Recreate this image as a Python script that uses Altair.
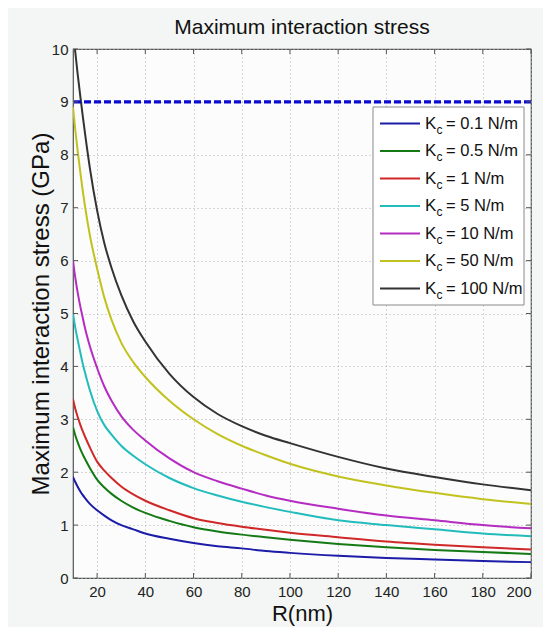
import altair as alt
import pandas as pd

# ---- data ----
R = [10, 11, 12, 13, 14, 15, 17, 20, 23, 26, 30, 35, 40, 50, 60, 70, 80, 90, 100, 120, 140, 160, 180, 200]

kc_labels = ["0.1", "0.5", "1", "5", "10", "50", "100"]

kc_0_1 = [1.91, 1.81, 1.72, 1.64, 1.57, 1.51, 1.40, 1.28, 1.18, 1.09, 1.00, 0.92, 0.84, 0.74, 0.66, 0.60, 0.56, 0.51, 0.475, 0.42, 0.38, 0.35, 0.32, 0.30]
kc_0_5 = [2.85, 2.69, 2.56, 2.44, 2.34, 2.25, 2.08, 1.86, 1.71, 1.59, 1.46, 1.33, 1.23, 1.08, 0.96, 0.88, 0.82, 0.77, 0.725, 0.645, 0.58, 0.53, 0.49, 0.455]
kc_1 = [3.38, 3.19, 3.04, 2.90, 2.78, 2.67, 2.47, 2.20, 2.03, 1.89, 1.73, 1.58, 1.46, 1.28, 1.13, 1.04, 0.97, 0.91, 0.855, 0.77, 0.69, 0.63, 0.58, 0.54]
kc_5 = [5.00, 4.72, 4.49, 4.27, 4.06, 3.88, 3.55, 3.16, 2.89, 2.71, 2.50, 2.31, 2.15, 1.89, 1.70, 1.56, 1.44, 1.34, 1.25, 1.09, 1.00, 0.92, 0.84, 0.79]
kc_10 = [6.00, 5.66, 5.38, 5.14, 4.93, 4.72, 4.38, 3.97, 3.62, 3.35, 3.06, 2.80, 2.60, 2.26, 2.00, 1.83, 1.69, 1.56, 1.46, 1.31, 1.18, 1.09, 1.00, 0.94]
kc_50 = [8.90, 8.45, 8.05, 7.68, 7.33, 7.02, 6.48, 5.85, 5.30, 4.88, 4.45, 4.08, 3.80, 3.35, 3.00, 2.72, 2.50, 2.32, 2.16, 1.92, 1.75, 1.61, 1.49, 1.40]
kc_100 = [10.35, 9.92, 9.50, 9.12, 8.75, 8.40, 7.75, 6.95, 6.33, 5.86, 5.35, 4.85, 4.47, 3.86, 3.42, 3.10, 2.87, 2.69, 2.55, 2.29, 2.07, 1.91, 1.77, 1.66]

series_values = [kc_0_1, kc_0_5, kc_1, kc_5, kc_10, kc_50, kc_100]

colors = ["#1c1ca8", "#157a15", "#d02828", "#22bcbc", "#b52cc2", "#c2c21e", "#333333"]

limit_value = [9]

x_ticks = [20, 40, 60, 80, 100, 120, 140, 160, 180, 200]
y_ticks = [0, 1, 2, 3, 4, 5, 6, 7, 8, 9, 10]

# ---- layout ----
W, H = 458, 529
FONT = "Liberation Sans"

rows = []
for lab, vals in zip(kc_labels, series_values):
    for r, v in zip(R, vals):
        rows.append({"R": r, "stress": v, "Kc": lab})
df = pd.DataFrame(rows)

leg_df = pd.DataFrame({"Kc": kc_labels, "rest": ["= " + k + " N/m" for k in kc_labels]})

xscale = alt.Scale(domain=[10, 200], nice=False, zero=False)
yscale = alt.Scale(domain=[0, 10], nice=False, zero=False)
cscale = alt.Scale(domain=kc_labels, range=colors)

x_axis = alt.Axis(values=x_ticks, title="R(nm)", grid=True)
y_axis = alt.Axis(values=y_ticks, title="Maximum interaction stress (GPa)", grid=True)

lines = alt.Chart(df).mark_line(strokeWidth=2, clip=True, interpolate="monotone").encode(
    x=alt.X("R:Q", scale=xscale, axis=x_axis),
    y=alt.Y("stress:Q", scale=yscale, axis=y_axis),
    color=alt.Color("Kc:N", scale=cscale, legend=None),
)

limit = alt.Chart(pd.DataFrame({"limit": limit_value})).mark_rule(
    color="#0a0ad0", strokeWidth=3.2, strokeDash=[7, 3]
).encode(y=alt.Y("limit:Q", scale=yscale, axis=None))

# inward ticks (MATLAB style box)
xt = pd.DataFrame({"t": x_ticks})
yt = pd.DataFrame({"t": y_ticks})
tick_col = "#555555"
tick_bottom = alt.Chart(xt).mark_rule(color=tick_col, strokeWidth=1).encode(
    x=alt.X("t:Q", scale=xscale, title="R(nm)"), y=alt.value(H - 5), y2=alt.value(H))
tick_top = alt.Chart(xt).mark_rule(color=tick_col, strokeWidth=1).encode(
    x=alt.X("t:Q", scale=xscale, title="R(nm)"), y=alt.value(0), y2=alt.value(5))
tick_left = alt.Chart(yt).mark_rule(color=tick_col, strokeWidth=1).encode(
    y=alt.Y("t:Q", scale=yscale, axis=None), x=alt.value(0), x2=alt.value(5))
tick_right = alt.Chart(yt).mark_rule(color=tick_col, strokeWidth=1).encode(
    y=alt.Y("t:Q", scale=yscale, axis=None), x=alt.value(W - 5), x2=alt.value(W))

# legend
leg_y = alt.Y("Kc:N", sort=kc_labels,
              scale=alt.Scale(type="point", domain=kc_labels, range=[74.5, 239.5], padding=0),
              axis=None)

leg_box = alt.Chart(pd.DataFrame({"k": [0]})).mark_rect(
    fill="white", stroke="#8a8a8a", strokeWidth=1
).encode(x=alt.value(300), x2=alt.value(451), y=alt.value(58), y2=alt.value(256))

leg_lines = alt.Chart(leg_df).mark_rule(strokeWidth=2).encode(
    x=alt.value(307), x2=alt.value(347), y=leg_y,
    color=alt.Color("Kc:N", scale=cscale, legend=None))

leg_K = alt.Chart(leg_df).mark_text(
    align="left", baseline="middle", fontSize=17, font=FONT, color="#111", text="K"
).encode(x=alt.value(352), y=leg_y)

leg_c = alt.Chart(leg_df).mark_text(
    align="left", baseline="middle", fontSize=12, font=FONT, color="#111", text="c", dx=11.5, dy=6
).encode(x=alt.value(352), y=leg_y)

leg_rest = alt.Chart(leg_df).mark_text(
    align="left", baseline="middle", fontSize=16.5, font=FONT, color="#111", dx=21
).encode(x=alt.value(352), y=leg_y, text="rest:N")

chart = alt.layer(
    lines, limit, tick_bottom, tick_top, tick_left, tick_right,
    leg_box, leg_lines, leg_K, leg_c, leg_rest
).resolve_scale(
    y="independent"
).properties(
    width=W, height=H,
    title=alt.TitleParams("Maximum interaction stress", fontSize=21, fontWeight="normal",
                          font=FONT, color="#111", anchor="middle", offset=4),
    autosize=alt.AutoSizeParams(type="none"),
    padding={"left": 65, "top": 41, "right": 12, "bottom": 49},
    background="#f3f6f4",
).configure_view(
    stroke="#555555", strokeWidth=1.2, fill="#fbfcfb"
).configure_axis(
    domain=False, ticks=False,
    gridColor="#b0b0b0", gridDash=[1, 3], gridWidth=1,
    labelFont=FONT, labelFontSize=15, labelColor="#222",
    titleFont=FONT, titleFontWeight="normal", titleColor="#111",
).configure_axisX(
    labelPadding=6, titleFontSize=22, titlePadding=4,
).configure_axisY(
    labelPadding=5, titleFontSize=24, titlePadding=-2,
)

chart.save("out.html", embed_options={"renderer": "svg", "actions": False})
